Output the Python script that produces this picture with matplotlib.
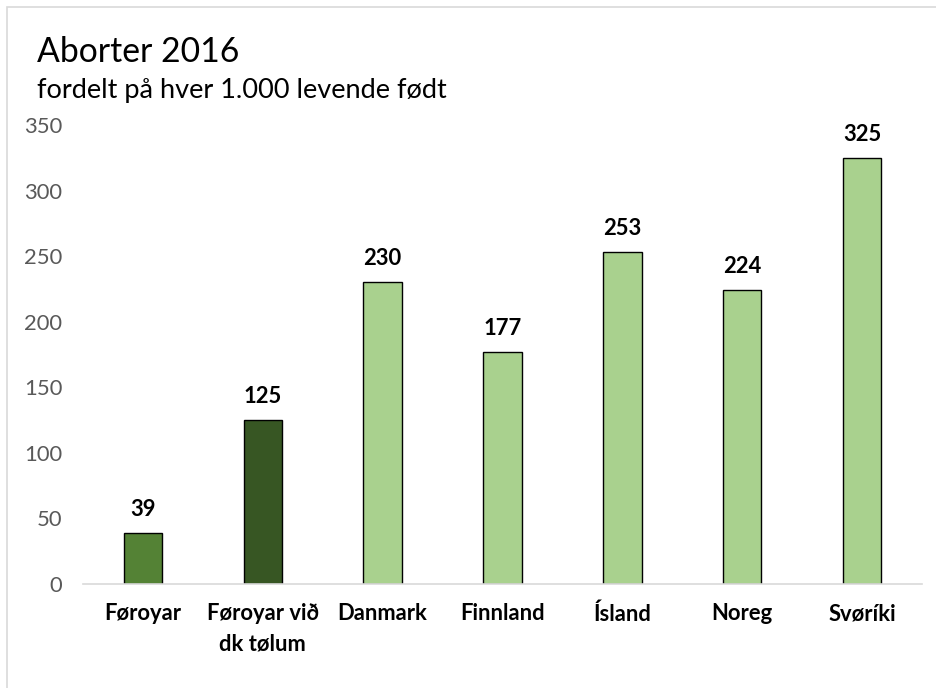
import matplotlib.pyplot as plt
from matplotlib.patches import Rectangle

# Data
countries = ['Føroyar', 'Føroyar við\ndk tølum', 'Danmark', 'Finnland', 'Ísland', 'Noreg', 'Svøríki']
abortions = [39, 125, 230, 177, 253, 224, 325]
bar_colors = ['#548235', '#375623', '#A9D18E', '#A9D18E', '#A9D18E', '#A9D18E', '#A9D18E']
y_ticks = [0, 50, 100, 150, 200, 250, 300, 350]

plt.rcParams['font.family'] = ['Lato', 'DejaVu Sans']

fig = plt.figure(figsize=(9.36, 6.88), dpi=100)
ax = fig.add_axes([0.0887, 0.1512, 0.8963, 0.6671])

# Outer chart border (only left/top visible in the reference)
fig.patches.append(Rectangle((7 / 936, -0.05), 1.2, 1 - 7 / 688 + 0.05,
                             transform=fig.transFigure, fill=False,
                             edgecolor='#D9D9D9', linewidth=1.2))

x = range(len(countries))
bars = ax.bar(x, abortions, width=0.32, color=bar_colors, edgecolor='black', linewidth=1)

for xi, v in zip(x, abortions):
    ax.text(xi, v + 10, str(v), ha='center', va='bottom', fontsize=15.8,
            fontweight='bold', color='black')

ax.set_xlim(-0.5, len(countries) - 0.5)
ax.set_ylim(0, 350)
ax.set_yticks(y_ticks)
ax.set_yticklabels([str(t) for t in y_ticks], fontsize=15.8, color='#595959')
ax.set_xticks(list(x))
ax.set_xticklabels(countries, fontsize=15.8, fontweight='bold', color='black',
                   linespacing=1.55, va='top')
ax.tick_params(axis='y', length=0, pad=15)
ax.tick_params(axis='x', length=0, pad=14)

for side in ['top', 'right', 'left']:
    ax.spines[side].set_visible(False)
ax.spines['bottom'].set_color('#D9D9D9')
ax.spines['bottom'].set_linewidth(1.2)

fig.text(37 / 936, 1 - 62 / 688, 'Aborter 2016', fontsize=24.3, va='baseline', ha='left')
fig.text(37 / 936, 1 - 98 / 688, 'fordelt på hver 1.000 levende født', fontsize=19.5,
         va='baseline', ha='left')

fig.savefig('out.png', dpi=100)
